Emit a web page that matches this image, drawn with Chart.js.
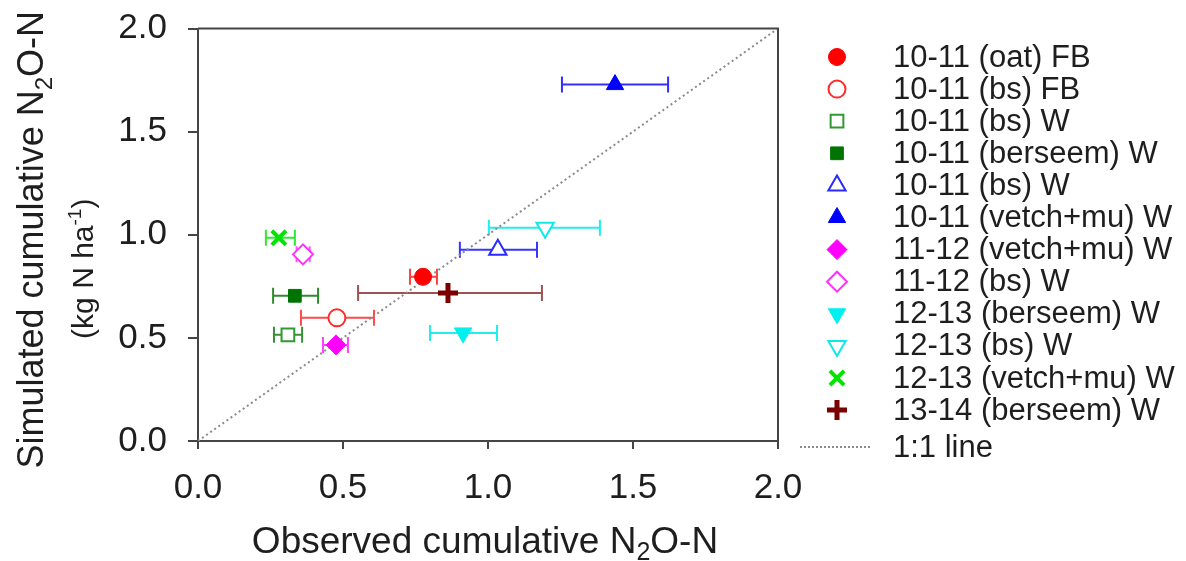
<!DOCTYPE html>
<html lang="en">
<head>
    <meta charset="UTF-8">
    <title>Simulated vs observed cumulative N2O-N</title>
    <script src="https://cdn.jsdelivr.net/npm/chart.js"></script>
    <style>
        html, body { margin: 0; padding: 0; background: #fff; }
        canvas { display: block; }
    </style>
</head>
<body>
    <canvas id="n2oChart" width="1186" height="561"></canvas>

    <script>
        // Data
        const seriesLabels = [
            '10-11 (oat) FB',
            '10-11 (bs) FB',
            '10-11 (bs) W',
            '10-11 (berseem) W',
            '10-11 (bs) W',
            '10-11 (vetch+mu) W',
            '11-12 (vetch+mu) W',
            '11-12 (bs) W',
            '12-13 (berseem) W',
            '12-13 (bs) W',
            '12-13 (vetch+mu) W',
            '13-14 (berseem) W'
        ];
        const observed  = [0.776, 0.479, 0.310, 0.334, 1.034, 1.438, 0.476, 0.362, 0.914, 1.197, 0.279, 0.862];
        const simulated = [0.796, 0.597, 0.515, 0.704, 0.927, 1.728, 0.466, 0.905, 0.524, 1.034, 0.985, 0.718];
        const errLow    = [0.731, 0.355, 0.262, 0.259, 0.903, 1.255, 0.431, 0.340, 0.800, 1.003, 0.234, 0.552];
        const errHigh   = [0.824, 0.607, 0.359, 0.414, 1.169, 1.621, 0.517, 0.385, 1.031, 1.386, 0.334, 1.186];
        const oneToOne  = [0, 2];
        const tickValues = [0, 0.5, 1.0, 1.5, 2.0];

        // marker styles
        const markerStyle = ['circle', 'circle', 'rect', 'rect', 'triangle', 'triangle',
                             'rectRot', 'rectRot', 'triangle', 'triangle', 'crossRot', 'cross'];
        const markerRotation = [0, 0, 0, 0, 0, 0, 0, 0, 180, 180, 0, 0];
        const markerColor = ['#ff0000', '#ff2a2a', '#2f9a2f', '#007400', '#2a2aff', '#0000ff',
                             '#ff00ff', '#ff30ff', '#00f0f0', '#10e8e8', '#00e600', '#7a0000'];
        const markerOpen = [false, true, true, false, true, false, false, true, false, true, false, false];
        const markerRadius = [8.5, 8.5, 9, 9, 10, 10, 10, 10, 10, 10, 10, 10];
        const markerBorder = [1, 2, 2, 1, 2, 1, 1, 2, 1, 2, 4, 5];
        const errColor = ['#ff4040', '#ff4a4a', '#3a903a', '#2f8a2f', '#3535ff', '#3030ff',
                          '#ff40ff', '#ff50ff', '#20eeee', '#20eeee', '#30e830', '#a05252'];

        const FONT = '"Liberation Sans", Arial, Helvetica, sans-serif';
        const AXIS = '#454545';

        const datasets = seriesLabels.map((label, i) => ({
            type: 'scatter',
            label: label,
            data: [{ x: observed[i], y: simulated[i] }],
            pointStyle: markerStyle[i],
            pointRotation: markerRotation[i],
            pointRadius: markerRadius[i],
            pointHoverRadius: markerRadius[i],
            pointBorderWidth: markerBorder[i],
            borderColor: markerColor[i],
            backgroundColor: markerOpen[i] ? '#ffffff' : markerColor[i]
        }));
        datasets.push({
            type: 'line',
            label: '1:1 line',
            data: oneToOne.map(v => ({ x: v, y: v })),
            borderColor: '#8a8a8a',
            borderWidth: 2,
            borderDash: [2, 3],
            pointRadius: 0,
            fill: false
        });

        // horizontal error bars, drawn under the markers
        const errorBars = {
            id: 'errorBars',
            beforeDatasetsDraw(chart) {
                const ctx = chart.ctx;
                const xs = chart.scales.x, ys = chart.scales.y;
                ctx.save();
                ctx.lineWidth = 2;
                seriesLabels.forEach((_, i) => {
                    const y = ys.getPixelForValue(simulated[i]);
                    const x0 = xs.getPixelForValue(errLow[i]);
                    const x1 = xs.getPixelForValue(errHigh[i]);
                    ctx.strokeStyle = errColor[i];
                    ctx.beginPath();
                    ctx.moveTo(x0, y); ctx.lineTo(x1, y);
                    ctx.moveTo(x0, y - 8); ctx.lineTo(x0, y + 8);
                    ctx.moveTo(x1, y - 8); ctx.lineTo(x1, y + 8);
                    ctx.stroke();
                });
                ctx.restore();
            }
        };

        // top and right sides of the frame
        const frame = {
            id: 'frame',
            afterDraw(chart) {
                const { left, right, top, bottom } = chart.chartArea;
                const ctx = chart.ctx;
                ctx.save();
                ctx.strokeStyle = AXIS;
                ctx.lineWidth = 2;
                ctx.beginPath();
                ctx.moveTo(left, top);
                ctx.lineTo(right, top);
                ctx.lineTo(right, bottom);
                ctx.stroke();
                ctx.restore();
            }
        };

        // text with sub/superscripts: parts = [[text, size, shift]]
        function richText(ctx, parts, x, y) {
            let total = 0;
            parts.forEach(p => { ctx.font = p[1] + 'px ' + FONT; total += ctx.measureText(p[0]).width; });
            let cx = x - total / 2;
            parts.forEach(p => {
                ctx.font = p[1] + 'px ' + FONT;
                ctx.fillText(p[0], cx, y + p[2]);
                cx += ctx.measureText(p[0]).width;
            });
        }

        const axisTitles = {
            id: 'axisTitles',
            afterDraw(chart) {
                const { left, right, top, bottom } = chart.chartArea;
                const ctx = chart.ctx;
                ctx.save();
                ctx.fillStyle = '#1e1e1e';
                ctx.textBaseline = 'alphabetic';
                ctx.textAlign = 'left';
                richText(ctx, [['Observed cumulative N', 37, 0], ['2', 25, 7], ['O-N', 37, 0]],
                         (left + right) / 2 - 3, bottom + 112);

                ctx.translate(left - 155, (top + bottom) / 2 + 5);
                ctx.rotate(-Math.PI / 2);
                richText(ctx, [['Simulated cumulative N', 36, 0], ['2', 24, 9], ['O-N', 36, 0]], 0, 0);
                ctx.translate(-29, 50);
                richText(ctx, [['(kg N ha', 30, 0], ['-1', 19, -12], [')', 30, 0]], 0, 0);
                ctx.restore();
            }
        };

        const sideLegend = {
            id: 'sideLegend',
            afterDraw(chart) {
                const ctx = chart.ctx;
                const mx = 837, tx = 893, y0 = 57, step = 32.1;
                ctx.save();
                ctx.textBaseline = 'middle';
                ctx.textAlign = 'left';
                seriesLabels.forEach((label, i) => {
                    const y = y0 + i * step;
                    ctx.fillStyle = markerOpen[i] ? '#ffffff' : markerColor[i];
                    ctx.strokeStyle = markerColor[i];
                    ctx.lineWidth = markerBorder[i];
                    Chart.helpers.drawPoint(ctx, {
                        pointStyle: markerStyle[i],
                        rotation: markerRotation[i],
                        radius: markerRadius[i],
                        borderWidth: markerBorder[i]
                    }, mx, y);
                    ctx.fillStyle = '#1e1e1e';
                    ctx.font = '31px ' + FONT;
                    ctx.fillText(label, tx, y + 1);
                });
                const ly = 447;
                ctx.strokeStyle = '#8a8a8a';
                ctx.lineWidth = 2;
                ctx.setLineDash([2, 2]);
                ctx.beginPath();
                ctx.moveTo(800, ly); ctx.lineTo(872, ly);
                ctx.stroke();
                ctx.setLineDash([]);
                ctx.fillStyle = '#1e1e1e';
                ctx.fillText(datasets[datasets.length - 1].label, tx, ly + 1);
                ctx.restore();
            }
        };

        const tickFont = { family: FONT, size: 35 };

        new Chart(document.getElementById('n2oChart').getContext('2d'), {
            data: { datasets: datasets },
            options: {
                responsive: false,
                animation: false,
                events: [],
                layout: { padding: { left: 0, top: 28.5, right: 408, bottom: 0 } },
                plugins: {
                    legend: { display: false },
                    tooltip: { enabled: false }
                },
                scales: {
                    x: {
                        type: 'linear',
                        min: 0, max: 2,
                        afterBuildTicks: s => { s.ticks = tickValues.map(v => ({ value: v })); },
                        afterFit: s => {
                            s.height = 120;
                            s.paddingLeft = 0; s.paddingRight = 0;
                        },
                        ticks: {
                            font: tickFont, color: '#1e1e1e', padding: 18,
                            callback: v => v.toFixed(1)
                        },
                        grid: { drawOnChartArea: false, drawTicks: true, tickLength: 8, color: AXIS, lineWidth: 2 },
                        border: { color: AXIS, width: 2 }
                    },
                    y: {
                        type: 'linear',
                        min: 0, max: 2,
                        afterBuildTicks: s => { s.ticks = tickValues.map(v => ({ value: v })); },
                        afterFit: s => {
                            s.width = 198;
                            s.paddingTop = 0; s.paddingBottom = 0;
                        },
                        ticks: {
                            font: tickFont, color: '#1e1e1e', padding: 21,
                            callback: v => v.toFixed(1)
                        },
                        grid: { drawOnChartArea: false, drawTicks: true, tickLength: 10, color: AXIS, lineWidth: 2 },
                        border: { color: AXIS, width: 2 }
                    }
                }
            },
            plugins: [errorBars, frame, axisTitles, sideLegend]
        });
    </script>
</body>
</html>
